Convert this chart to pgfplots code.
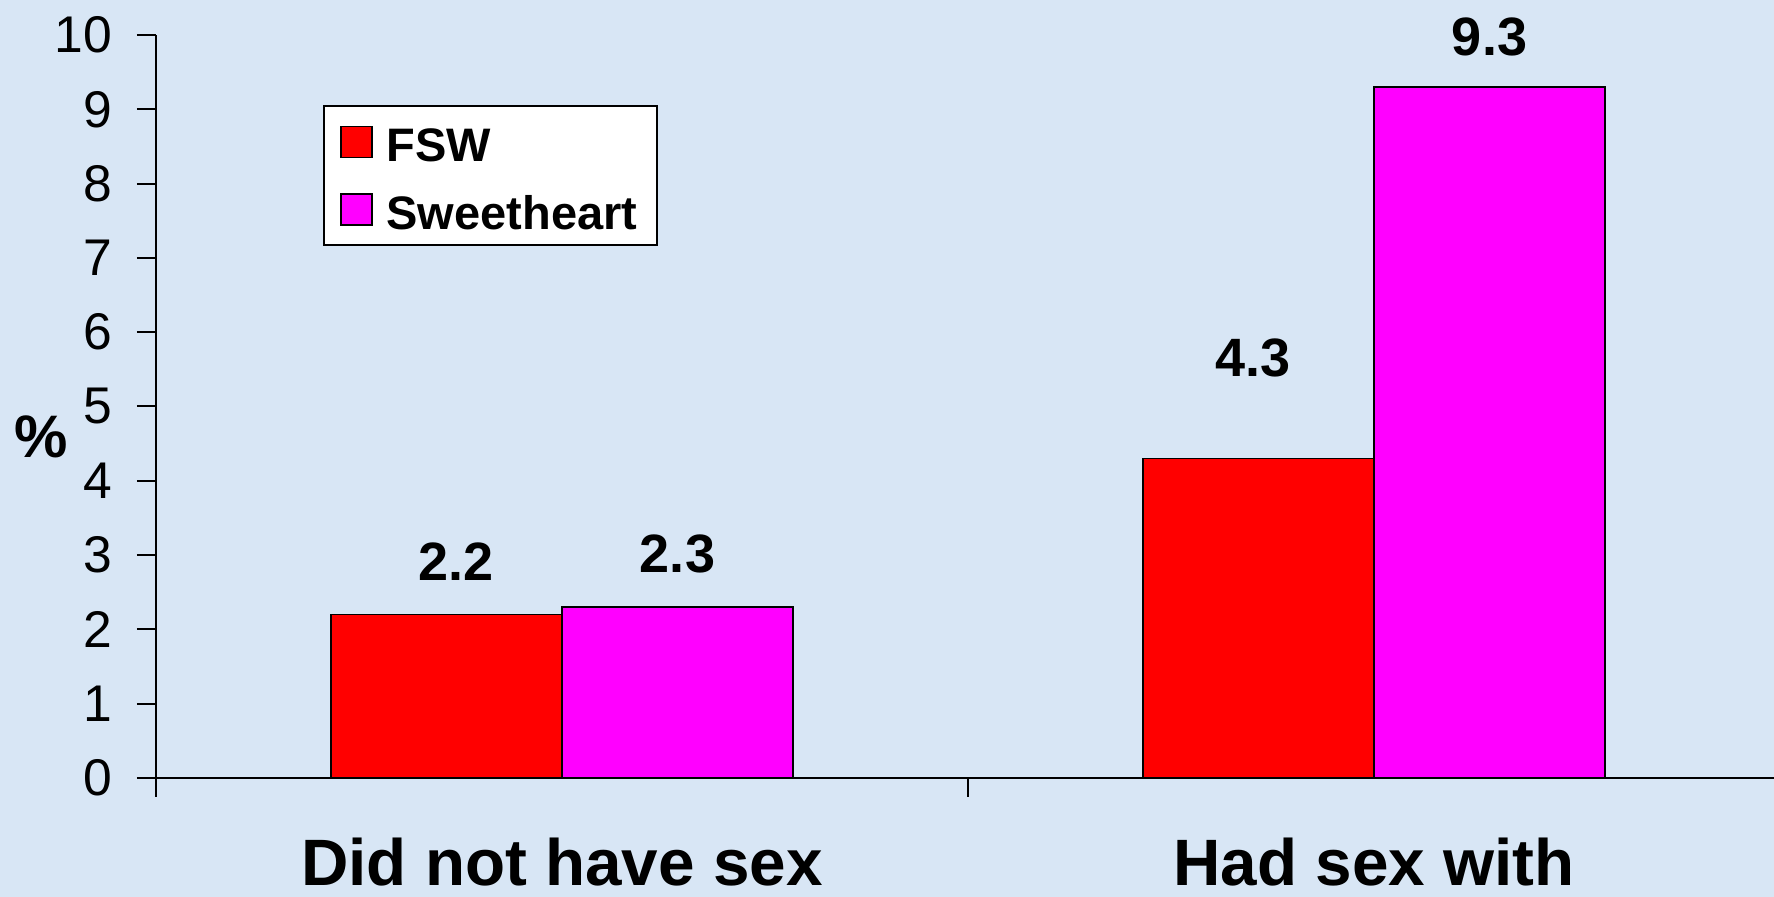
\documentclass[border=0pt]{standalone}
\usepackage{fontspec}
\setmainfont{Liberation Sans}
\usepackage{pgfplots}
\pgfplotsset{compat=1.18}
\definecolor{bgblue}{HTML}{D8E6F5}
\definecolor{fswred}{HTML}{FF0000}
\definecolor{sweetmag}{HTML}{FF00FF}

\begin{document}
\begin{tikzpicture}
  % 1 px of the reference = 0.5pt
  \useasboundingbox (-78pt,-59.5pt) rectangle (809pt,389pt);
  \clip (-78pt,-59.5pt) rectangle (809pt,389pt);
  \fill[bgblue] (-78pt,-59.5pt) rectangle (809pt,389pt);
  \begin{axis}[
    at={(0,0)}, anchor=south west,
    scale only axis,
    width=812pt, height=371.5pt,
    xmin=-0.5, xmax=1.5,
    ymin=0, ymax=10,
    ybar=0pt,
    bar width=0.2845,
    axis lines*=left,
    axis line style={black, line width=1pt},
    tick align=outside,
    tick style={black, line width=1pt},
    ytick={0,1,...,10},
    major tick length=9.5pt,
    yticklabel style={font=\fontsize{25.8}{30}\selectfont, xshift=-9pt},
    /pgf/number format/assume math mode=true,
    xtick={-0.5,0.5,1.5},
    xticklabels={},
    extra x ticks={0,1},
    extra x tick labels={Did not have sex, Had sex with},
    extra x tick style={
      major tick length=0pt,
      tick label style={font=\fontsize{32.8}{38}\selectfont\bfseries,
        inner sep=0pt, yshift=-29.7pt}
    },
    clip=false,
    legend style={
      at={(0.1028,0.9058)}, anchor=north west,
      draw=black, fill=white, line width=1pt,
      font=\fontsize{23.5}{28}\selectfont\bfseries,
      inner xsep=8pt, inner ysep=6pt,
      row sep=9.7pt,
      cells={anchor=west},
      nodes={text height=20pt, text depth=0pt},
      /tikz/every odd column/.append style={column sep=5pt},
    },
    legend image code/.code={%
      \draw[#1, draw=black, line width=0.8pt] (0pt,-7.75pt) rectangle (15.5pt,7.75pt);},
    nodes near coords,
    every node near coord/.append style={
      font=\fontsize{27}{32}\selectfont\bfseries,
      anchor=center, yshift=26.5pt, black,
      text height=, text depth=
    },
    /pgf/number format/fixed,
    /pgf/number format/precision=1,
  ]
    \addplot[fill=fswred, draw=black, line width=0.8pt,
      coordinate style/.condition={\coordindex==0}{xshift=5pt},
      coordinate style/.condition={\coordindex==1}{yshift=24pt, xshift=-2.5pt}]
      coordinates {(0,2.2) (1,4.3)};
    \addplot[fill=sweetmag, draw=black, line width=0.8pt,
      coordinate style/.condition={\coordindex==1}{yshift=-1.5pt}]
      coordinates {(0,2.3) (1,9.3)};
    \legend{FSW, Sweetheart}
    \node[font=\fontsize{30}{34}\selectfont\bfseries] at (rel axis cs:-0.0705,0.459) {\%};
  \end{axis}
\end{tikzpicture}
\end{document}
